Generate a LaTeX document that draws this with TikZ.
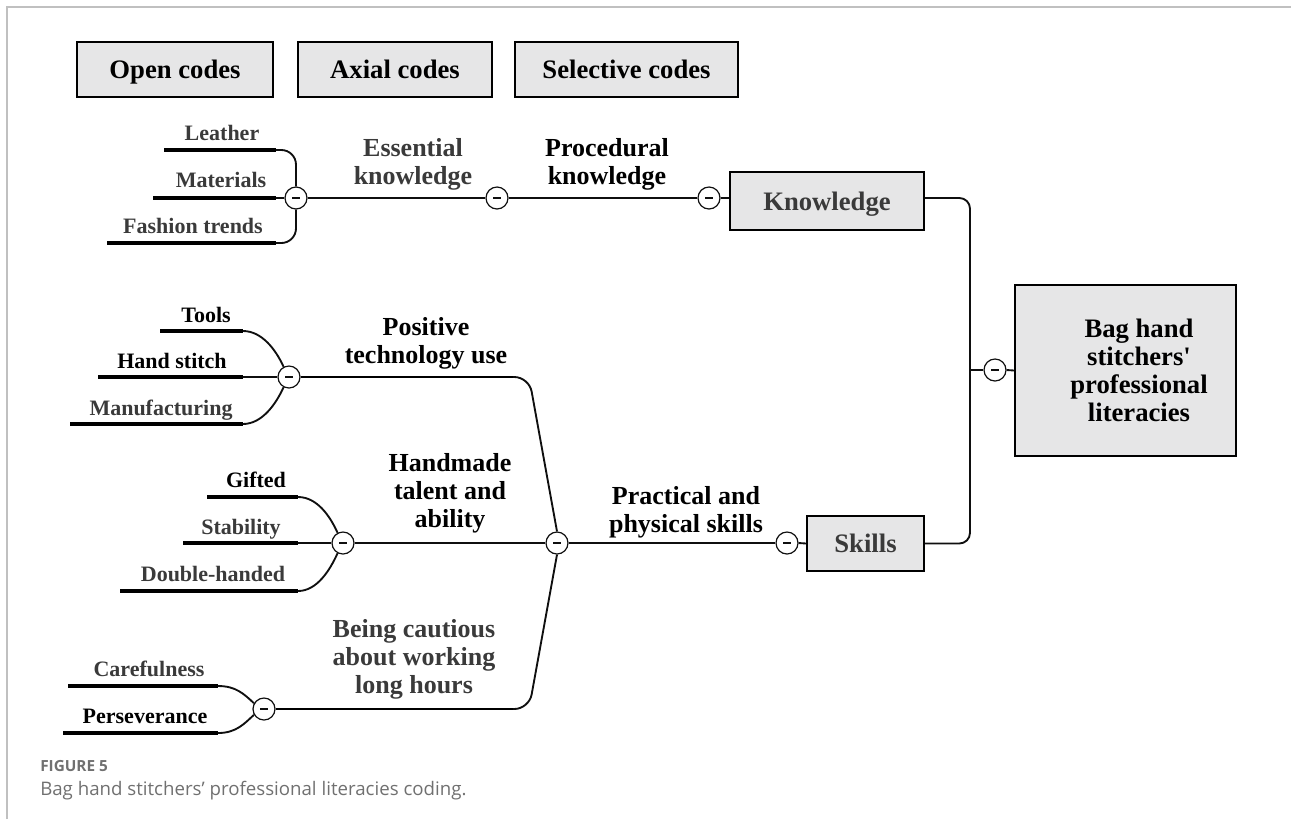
\documentclass[tikz,border=0pt]{standalone}
\usepackage{fontspec}
\setmainfont{Liberation Serif}
\newfontfamily\capfont{Open Sans}
\definecolor{boxfill}{RGB}{230,230,231}
\definecolor{ink}{RGB}{15,15,15}
\definecolor{inkgray}{RGB}{58,58,58}
\definecolor{framegray}{RGB}{192,192,192}
\definecolor{capgray}{RGB}{112,112,112}
\tikzset{
  hdrbox/.style={draw=black, fill=boxfill, line width=1.3pt, inner sep=0pt,
    text height=15.5pt, text depth=2pt,
    minimum height=41.25pt, font=\fontsize{20}{22}\selectfont\bfseries},
  catbox/.style={draw=black, fill=boxfill, line width=1.3pt, inner sep=0pt,
    text height=15.5pt, text depth=2pt,
    font=\fontsize{20}{21}\selectfont\bfseries},
  lf/.style={font=\fontsize{16.5}{18}\selectfont\bfseries, anchor=base, inner sep=0pt},
  % multi-line labels: the base anchor sits on the last line
  md/.style={font=\fontsize{19.5}{21}\selectfont\bfseries, align=center, anchor=base, inner sep=0pt},
  knob/.style={circle, draw=ink, fill=white, line width=0.9pt, minimum size=16.5pt, inner sep=0pt,
    path picture={\draw[line width=0.8pt]
      ([xshift=-3pt]path picture bounding box.center) -- ([xshift=3pt]path picture bounding box.center);}},
  conn/.style={draw=ink, line width=1.4pt},
  under/.style={draw=black, line width=2.3pt},
}
\begin{document}
\begin{tikzpicture}[x=0.75pt, y=-0.75pt]
\useasboundingbox (0,0) rectangle (1291,819);

% frame lines along the top and left edges
\coordinate (fb) at (7,819);
\coordinate (fc) at (7,7);
\coordinate (fr) at (1291,7);
\draw[framegray, line width=1.5pt] (fb) -- (fc) -- (fr);

% column headers
\node[hdrbox, minimum width=147pt] (hOpen) at (175,69.5) {Open codes};
\node[hdrbox, minimum width=145.5pt] (hAxial) at (395,69.5) {Axial codes};
\node[hdrbox, minimum width=167.25pt] (hSel) at (626.5,69.5) {Selective codes};

% category boxes
\node[catbox, minimum width=145.5pt, minimum height=43.5pt, text=inkgray] (kn) at (827,201) {Knowledge};
\node[catbox, minimum width=87.75pt, minimum height=41.25pt, text=inkgray] (sk) at (865.5,543.5) {Skills};
\node[catbox, minimum width=165.75pt, minimum height=128.25pt] (goal) at (1125.5,370.5) {};
\node[md, font=\fontsize{20}{21}\selectfont\bfseries] (goaltxt) at (1139,421)
  {Bag hand\\stitchers\textquotesingle\\professional\\literacies};

% collapse knobs
\node[knob] (c1) at (296,198) {};
\node[knob] (c2) at (497,198) {};
\node[knob] (c3) at (709,198) {};
\node[knob] (c4) at (289,377) {};
\node[knob] (c5) at (343,543) {};
\node[knob] (c6) at (264,709) {};
\node[knob] (hub) at (557,543) {};
\node[knob] (c7) at (787,543) {};
\node[knob] (c8) at (995,370) {};

% ---- knowledge branch ----
\node[lf, text=inkgray] (tLeather) at (222,140) {Leather};
\node[lf, text=inkgray] (tMaterials) at (221,187) {Materials};
\node[lf, text=inkgray] (tFashion) at (193,233) {Fashion trends};
\coordinate (uLeather) at (164,150);   \coordinate (kLeather) at (276,150);
\coordinate (uMaterials) at (153,198); \coordinate (kMaterials) at (276,198);
\coordinate (uFashion) at (107,243);   \coordinate (kFashion) at (276,243);
\draw[under] (uLeather) -- (kLeather);
\draw[under] (uMaterials) -- (kMaterials);
\draw[under] (uFashion) -- (kFashion);
\draw[conn, rounded corners=11pt] (kLeather) -| (c1.north);
\draw[conn, rounded corners=11pt] (kFashion) -| (c1.south);
\draw[conn] (kMaterials) -- (c1.west);

\node[md, text=inkgray] (tEssential) at (413,184) {Essential\\knowledge};
\node[md] (tProcedural) at (607,184) {Procedural\\knowledge};
\draw[conn] (c1.east) -- (c2.west);
\draw[conn] (c2.east) -- (c3.west);
\draw[conn] (c3.east) -- (kn.west |- c3.east);

% ---- skills branch: technology use ----
\node[lf] (tTools) at (206,322) {Tools};
\node[lf] (tHand) at (172,368) {Hand stitch};
\node[lf, text=inkgray] (tManu) at (161,415) {Manufacturing};
\coordinate (uTools) at (160,331); \coordinate (kTools) at (243,331);
\coordinate (uHand) at (98,377);   \coordinate (kHand) at (243,377);
\coordinate (uManu) at (70,424);   \coordinate (kManu) at (243,424);
\draw[under] (uTools) -- (kTools);
\draw[under] (uHand) -- (kHand);
\draw[under] (uManu) -- (kManu);
\draw[conn] (kTools) .. controls (262,331) and (276,350) .. (c4.118);
\draw[conn] (kHand) -- (c4.west);
\draw[conn] (kManu) .. controls (262,424) and (276,404) .. (c4.242);
\node[md] (tPositive) at (426,363) {Positive\\technology use};

% ---- skills branch: handmade talent ----
\node[lf] (tGifted) at (256,487) {Gifted};
\node[lf, text=inkgray] (tStability) at (241,534) {Stability};
\node[lf, text=inkgray] (tDouble) at (213,581) {Double-handed};
\coordinate (uGifted) at (207,497);    \coordinate (kGifted) at (298,497);
\coordinate (uStability) at (183,543); \coordinate (kStability) at (298,543);
\coordinate (uDouble) at (120,591);    \coordinate (kDouble) at (298,591);
\draw[under] (uGifted) -- (kGifted);
\draw[under] (uStability) -- (kStability);
\draw[under] (uDouble) -- (kDouble);
\draw[conn] (kGifted) .. controls (317,497) and (330,516) .. (c5.118);
\draw[conn] (kStability) -- (c5.west);
\draw[conn] (kDouble) .. controls (317,591) and (330,570) .. (c5.242);
\node[md] (tHandmade) at (450,527) {Handmade\\talent and\\ability};

% ---- skills branch: working hours ----
\node[lf, text=inkgray] (tCareful) at (149,676) {Carefulness};
\node[lf] (tPersev) at (145,723) {Perseverance};
\coordinate (uCareful) at (68,686); \coordinate (kCareful) at (218,686);
\coordinate (uPersev) at (63,733);  \coordinate (kPersev) at (218,733);
\draw[under] (uCareful) -- (kCareful);
\draw[under] (uPersev) -- (kPersev);
\draw[conn] (kCareful) .. controls (236,686) and (244,694) .. (c6.150);
\draw[conn] (kPersev) .. controls (236,733) and (244,724) .. (c6.210);
\node[md, text=inkgray] (tCautious) at (414,693) {Being cautious\\about working\\long hours};

% ---- joining at the skills hub ----
\coordinate (p4) at (513,377); \coordinate (q4) at (529,377);
\coordinate (p6) at (513,709); \coordinate (q6) at (529,709);
\draw[under, line width=2pt] (c4.east) -- (p4);
\draw[under, line width=2pt] (c6.east) -- (p6);
\draw[conn, rounded corners=11pt] (p4) -- (q4) -- (hub.north);
\draw[conn, rounded corners=11pt] (p6) -- (q6) -- (hub.south);
\draw[conn] (c5.east) -- (hub.west);
\draw[conn] (hub.east) -- (c7.west);
\draw[conn] (c7.east) -- (sk.west);
\node[md] (tPractical) at (686,532) {Practical and\\physical skills};

% ---- joining knowledge and skills ----
\coordinate (jx) at (970,370);
\draw[conn, rounded corners=8pt] (kn.east |- c3.east) -| (jx) |- (sk.east);
\draw[conn] (jx) -- (c8.west);
\draw[conn] (c8.east) -- (goal.west);

% caption
\node[anchor=base west, inner sep=0pt, text=capgray, font=\capfont\bfseries\fontsize{11.5}{13}\selectfont] (figno) at (40,771) {FIGURE 5};
\node[anchor=base west, inner sep=0pt, text=capgray, font=\capfont\fontsize{14}{17}\selectfont] (figcap) at (40,795) {Bag hand stitchers’ professional literacies coding.};
\end{tikzpicture}
\end{document}
